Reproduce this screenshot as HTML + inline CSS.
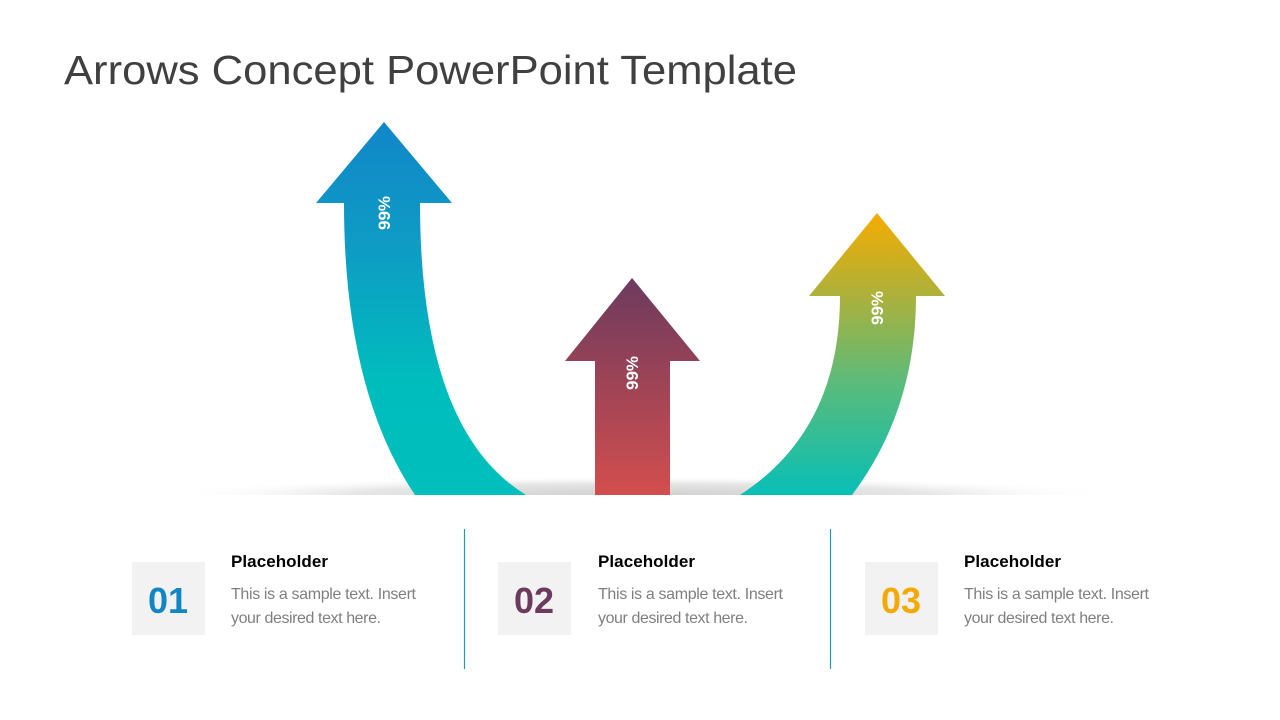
<!DOCTYPE html>
<html><head><meta charset="utf-8"><style>
html,body{margin:0;padding:0;background:#fff;}
svg{display:block;}
</style></head><body>
<svg width="1280" height="720" viewBox="0 0 1280 720" xmlns="http://www.w3.org/2000/svg" font-family="'Liberation Sans', sans-serif">
<defs>
<linearGradient id="gL" x1="0" y1="122" x2="0" y2="494" gradientUnits="userSpaceOnUse">
<stop offset="0" stop-color="#1186c8"/><stop offset="0.35" stop-color="#0e9dc4"/><stop offset="0.7" stop-color="#00bdbd"/><stop offset="1" stop-color="#00bfbc"/></linearGradient>
<linearGradient id="gM" x1="0" y1="278" x2="0" y2="494" gradientUnits="userSpaceOnUse">
<stop offset="0" stop-color="#6c3a5e"/><stop offset="1" stop-color="#d24e4e"/></linearGradient>
<linearGradient id="gR" x1="0" y1="213" x2="0" y2="494" gradientUnits="userSpaceOnUse">
<stop offset="0" stop-color="#f5ac00"/><stop offset="0.3" stop-color="#abb13c"/><stop offset="0.6" stop-color="#5cbb7a"/><stop offset="1" stop-color="#08bfb6"/></linearGradient>
<radialGradient id="sh" cx="640" cy="495" r="480" gradientTransform="translate(0,495) scale(1,0.04) translate(0,-495)" gradientUnits="userSpaceOnUse">
<stop offset="0" stop-color="#cfcfcf"/><stop offset="0.6" stop-color="#e6e6e6"/><stop offset="1" stop-color="#fff" stop-opacity="0"/></radialGradient>
</defs>
<text x="64" y="84" font-size="41" fill="#404040" textLength="733" lengthAdjust="spacingAndGlyphs">Arrows Concept PowerPoint Template</text>
<rect x="160" y="475" width="960" height="20" fill="url(#sh)"/>
<path d="M384,122 L452,203 L420,203 Q420,430 526,495 L415,495 Q344,390 344,203 L316,203 Z" fill="url(#gL)"/>
<path d="M632,278 L700,361 L670,361 L670,495 L595,495 L595,361 L565,361 Z" fill="url(#gM)"/>
<path d="M877,213 L945,296 L916,296 Q916,410 852,495 L740,495 Q840,430 840,296 L809,296 Z" fill="url(#gR)"/>
<g fill="#fff" font-size="17" font-weight="bold">
<text transform="translate(390,230) rotate(-90)">99%</text>
<text transform="translate(638,390) rotate(-90)">99%</text>
<text transform="translate(883,325) rotate(-90)">99%</text>
</g>
<line x1="464.5" y1="529" x2="464.5" y2="669" stroke="#1aa0b0" stroke-width="1.2"/>
<line x1="830.5" y1="529" x2="830.5" y2="669" stroke="#1aa0b0" stroke-width="1.2"/>
<rect x="132" y="562" width="73" height="73" fill="#f2f2f2"/>
<rect x="498" y="562" width="73" height="73" fill="#f2f2f2"/>
<rect x="865" y="562" width="73" height="73" fill="#f2f2f2"/>
<g font-size="36" font-weight="bold" text-anchor="middle">
<text x="168" y="613" fill="#1286c4">01</text>
<text x="534" y="613" fill="#6c3a5e">02</text>
<text x="901" y="613" fill="#f5a800">03</text>
</g>
<g font-size="17" font-weight="bold" fill="#000">
<text x="231" y="567" textLength="97">Placeholder</text>
<text x="598" y="567" textLength="97">Placeholder</text>
<text x="964" y="567" textLength="97">Placeholder</text>
</g>
<g font-size="16" fill="#7f7f7f">
<text x="231" y="599" textLength="185">This is a sample text. Insert</text>
<text x="231" y="623" textLength="150">your desired text here.</text>
<text x="598" y="599" textLength="185">This is a sample text. Insert</text>
<text x="598" y="623" textLength="150">your desired text here.</text>
<text x="964" y="599" textLength="185">This is a sample text. Insert</text>
<text x="964" y="623" textLength="150">your desired text here.</text>
</g>
</svg>
</body></html>
